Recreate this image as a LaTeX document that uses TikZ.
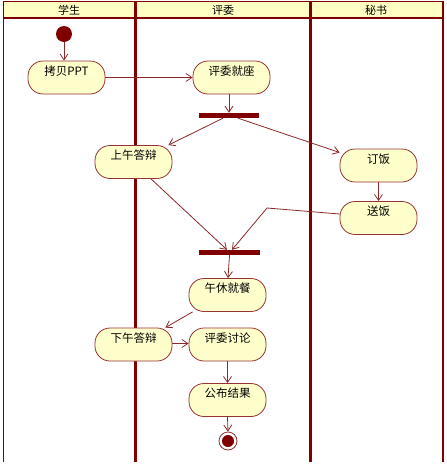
\documentclass[tikz,border=0pt]{standalone}
\usepackage{fontspec}
\setmainfont{Noto Sans CJK SC}
\usetikzlibrary{arrows.meta}
\definecolor{lane}{RGB}{128,0,0}
\definecolor{edgec}{RGB}{140,40,40}
\definecolor{nodefill}{RGB}{255,255,204}
\definecolor{headfill}{RGB}{255,255,196}
\definecolor{nodeborder}{RGB}{150,50,50}
\tikzset{
  act/.style={draw=nodeborder, line width=0.8pt, fill=nodefill, rounded corners=15pt,
    minimum width=77pt, inner xsep=0pt, inner ysep=0pt, text height=14pt, text depth=19pt,
    font=\fontsize{11.5}{13}\selectfont},
  bar/.style={fill=lane, draw=none, minimum width=60pt, minimum height=5pt, inner sep=0pt},
  flow/.style={draw=edgec, line width=0.8pt, -{Straight Barb[length=6pt,width=8pt]}},
  headtext/.style={font=\fontsize{11}{13}\selectfont, inner sep=0pt},
}
\begin{document}
\begin{tikzpicture}[x=1pt,y=-1pt]
\useasboundingbox (0,0) rectangle (447,466);
% header
\fill[headfill] (3,1) rectangle (443,18);
\draw[lane, line width=0.8pt] (3,1) -- (443,1);
\draw[lane, line width=2pt] (3,18) -- (443,18);
% lane borders
\draw[lane, line width=1pt] (3,1) -- (3,462);
\draw[lane, line width=1.5pt] (443,1) -- (443,462);
\draw[lane, line width=3pt] (135,1) -- (135,462);
\draw[lane, line width=3pt] (310,1) -- (310,462);
\node[headtext] (h1) at (69,10) {学生};
\node[headtext] (h2) at (223,10) {评委};
\node[headtext] (h3) at (376,10) {秘书};
% nodes
\node[circle, fill=lane, minimum size=16pt, inner sep=0pt] (start) at (64,34) {};
\node[act] (ppt) at (66.5,77.5) {拷贝PPT};
\node[act] (seat) at (231.5,77.5) {评委就座};
\node[bar] (fork) at (229,115.5) {};
\node[act] (am) at (133.5,162) {上午答辩};
\node[act] (order) at (378.5,165.5) {订饭};
\node[act] (deliver) at (378.5,218) {送饭};
\node[bar, minimum width=61pt] (join) at (229.5,252.5) {};
\node[act] (lunch) at (227.5,295) {午休就餐};
\node[act] (pm) at (133.5,344.5) {下午答辩};
\node[act] (discuss) at (227.5,344.5) {评委讨论};
\node[act] (publish) at (227.5,400) {公布结果};
\node[circle, draw=nodeborder, line width=0.8pt, fill=white, minimum size=18pt, inner sep=0pt] (end) at (228,441) {};
\node[circle, fill=lane, minimum size=12pt, inner sep=0pt] (endcore) at (end) {};
\coordinate (bend) at (267,208);
% edges
\draw[flow] (start.south) -- (start.south |- ppt.north);
\draw[flow] (ppt.east) -- (seat.west);
\draw[flow] (seat.south -| fork) -- (fork.north);
\draw[flow] ([xshift=-6pt]fork.south) -- ([xshift=-4pt]am.north east);
\draw[flow] ([xshift=9pt]fork.south) -- ([yshift=13pt]order.west);
\draw[flow] ([xshift=17.5pt]am.south) -- ([xshift=-2.5pt]join.north);
\draw[flow] (order.south) -- (deliver.north);
\draw[flow] ([yshift=4pt]deliver.west) -- (bend) -- ([xshift=2.5pt]join.north);
\draw[flow] (join.south) -- ([xshift=0.5pt]lunch.north);
\draw[flow] ([xshift=4pt]lunch.south west) -- ([xshift=-7pt]pm.north east);
\draw[flow] ([yshift=1pt]pm.east) -- ([yshift=1pt]discuss.west);
\draw[flow] (discuss.south) -- (publish.north);
\draw[flow] (publish.south) -- (end.north);
\end{tikzpicture}
\end{document}
